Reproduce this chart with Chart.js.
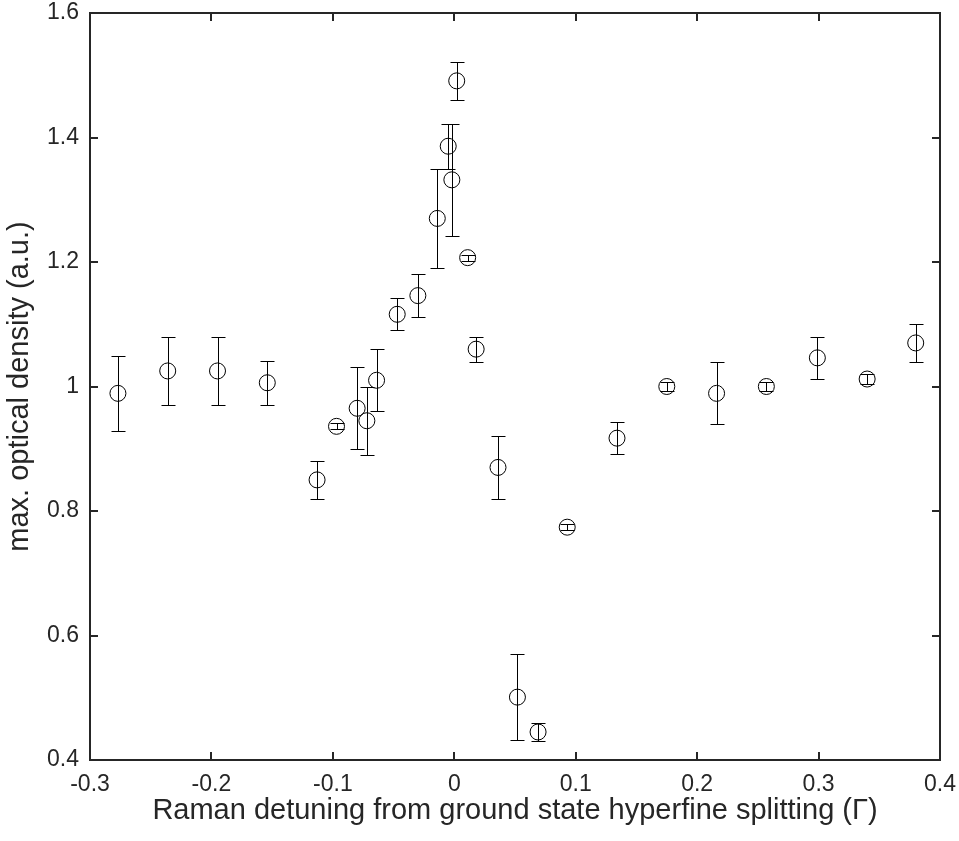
<!DOCTYPE html>
<html>
<head>
<meta charset="utf-8">
<script src="https://cdn.jsdelivr.net/npm/chart.js@4.4.0/dist/chart.umd.min.js"></script>
<style>
  html, body { margin: 0; padding: 0; background: #fff; }
  #wrap { width: 959px; height: 841px; }
</style>
</head>
<body>
<div id="wrap"><canvas id="chart" width="959" height="841"></canvas></div>
<script>
// Raman detuning (Gamma) vs max. optical density, with error bars
var detuning = [-0.277, -0.236, -0.195, -0.154, -0.113, -0.097, -0.080, -0.072, -0.064, -0.047,
                -0.030, -0.014, -0.005, -0.002, 0.002, 0.011, 0.018, 0.036, 0.052, 0.069,
                0.093, 0.134, 0.175, 0.216, 0.257, 0.299, 0.340, 0.380];
var density  = [0.989, 1.025, 1.025, 1.006, 0.850, 0.936, 0.965, 0.945, 1.010, 1.116,
                1.146, 1.270, 1.386, 1.332, 1.491, 1.207, 1.060, 0.870, 0.501, 0.445,
                0.774, 0.917, 1.000, 0.989, 1.000, 1.046, 1.012, 1.070];
var densityErr = [0.060, 0.055, 0.055, 0.035, 0.030, 0.005, 0.066, 0.055, 0.050, 0.026,
                  0.034, 0.080, 0.036, 0.090, 0.030, 0.005, 0.020, 0.050, 0.069, 0.015,
                  0.005, 0.026, 0.007, 0.050, 0.007, 0.034, 0.008, 0.030];

var xTicks      = [-0.3, -0.2, -0.1, 0, 0.1, 0.2, 0.3, 0.4];
var xTickLabels = ['-0.3', '-0.2', '-0.1', '0', '0.1', '0.2', '0.3', '0.4'];
var yTicks      = [0.4, 0.6, 0.8, 1.0, 1.2, 1.4, 1.6];
var yTickLabels = ['0.4', '0.6', '0.8', '1', '1.2', '1.4', '1.6'];

var axisColor = '#262626';
var fontName = "'Liberation Sans', Arial, sans-serif";

// vertical error bars with caps
var errorBars = {
    id: 'errorBars',
    afterDatasetsDraw: function(chart) {
        var ctx = chart.ctx;
        var xs = chart.scales.x, ys = chart.scales.y;
        var cap = 7;
        ctx.save();
        ctx.strokeStyle = '#000';
        ctx.lineWidth = 1;
        for (var i = 0; i < detuning.length; i++) {
            var px = Math.round(xs.getPixelForValue(detuning[i])) + 0.5;
            var top = Math.round(ys.getPixelForValue(density[i] + densityErr[i])) + 0.5;
            var bot = Math.round(ys.getPixelForValue(density[i] - densityErr[i])) + 0.5;
            ctx.beginPath();
            ctx.moveTo(px, top); ctx.lineTo(px, bot);
            ctx.moveTo(px - cap, top); ctx.lineTo(px + cap, top);
            ctx.moveTo(px - cap, bot); ctx.lineTo(px + cap, bot);
            ctx.stroke();
        }
        ctx.restore();
    }
};

// matlab style box with ticks pointing inwards
var boxAxes = {
    id: 'boxAxes',
    afterDraw: function(chart) {
        var ctx = chart.ctx, a = chart.chartArea;
        var xs = chart.scales.x, ys = chart.scales.y;
        var tl = 8;
        ctx.save();
        ctx.strokeStyle = axisColor;
        ctx.lineWidth = 2;
        ctx.strokeRect(a.left, a.top, a.right - a.left, a.bottom - a.top);
        ctx.beginPath();
        xTicks.forEach(function(v) {
            var px = Math.round(xs.getPixelForValue(v));
            ctx.moveTo(px, a.bottom); ctx.lineTo(px, a.bottom - tl);
            ctx.moveTo(px, a.top);    ctx.lineTo(px, a.top + tl);
        });
        yTicks.forEach(function(v) {
            var py = Math.round(ys.getPixelForValue(v));
            ctx.moveTo(a.left, py);  ctx.lineTo(a.left + tl, py);
            ctx.moveTo(a.right, py); ctx.lineTo(a.right - tl, py);
        });
        ctx.stroke();
        ctx.restore();
    }
};

var points = detuning.map(function(x, i) { return { x: x, y: density[i] }; });

new Chart(document.getElementById('chart'), {
    type: 'scatter',
    data: {
        datasets: [{
            data: points,
            pointStyle: 'circle',
            pointRadius: 8,
            pointHoverRadius: 8,
            pointBorderWidth: 1,
            borderColor: '#000',
            backgroundColor: 'rgba(0,0,0,0)'
        }]
    },
    options: {
        responsive: false,
        animation: false,
        devicePixelRatio: 1,
        layout: { padding: { top: 13, right: 19, left: 0, bottom: 0 } },
        plugins: {
            legend: { display: false },
            tooltip: { enabled: false }
        },
        scales: {
            x: {
                type: 'linear',
                min: -0.3, max: 0.4,
                grid: { display: false, drawTicks: false },
                border: { display: false },
                afterBuildTicks: function(s) { s.ticks = xTicks.map(function(v) { return { value: v }; }); },
                afterFit: function(s) {
                    s.height = 81;
                    s.paddingLeft = 0; s.paddingRight = 0;
                },
                ticks: {
                    color: axisColor,
                    padding: 11,
                    maxRotation: 0,
                    font: { family: fontName, size: 23 },
                    callback: function(v, i) { return xTickLabels[i]; }
                },
                title: {
                    display: true,
                    text: 'Raman detuning from ground state hyperfine splitting (\u0393)',
                    color: axisColor,
                    font: { family: fontName, size: 29 },
                    padding: { top: 0, bottom: 13 }
                }
            },
            y: {
                type: 'linear',
                min: 0.4, max: 1.6,
                grid: { display: false, drawTicks: false },
                border: { display: false },
                afterBuildTicks: function(s) { s.ticks = yTicks.map(function(v) { return { value: v }; }); },
                afterFit: function(s) {
                    s.width = 90;
                    s.paddingTop = 0; s.paddingBottom = 0;
                },
                ticks: {
                    color: axisColor,
                    padding: 11,
                    font: { family: fontName, size: 23 },
                    callback: function(v, i) { return yTickLabels[i]; }
                },
                title: {
                    display: true,
                    text: 'max. optical density (a.u.)',
                    color: axisColor,
                    font: { family: fontName, size: 29 },
                    padding: { top: 3, bottom: 0 }
                }
            }
        }
    },
    plugins: [errorBars, boxAxes]
});
</script>
</body>
</html>
